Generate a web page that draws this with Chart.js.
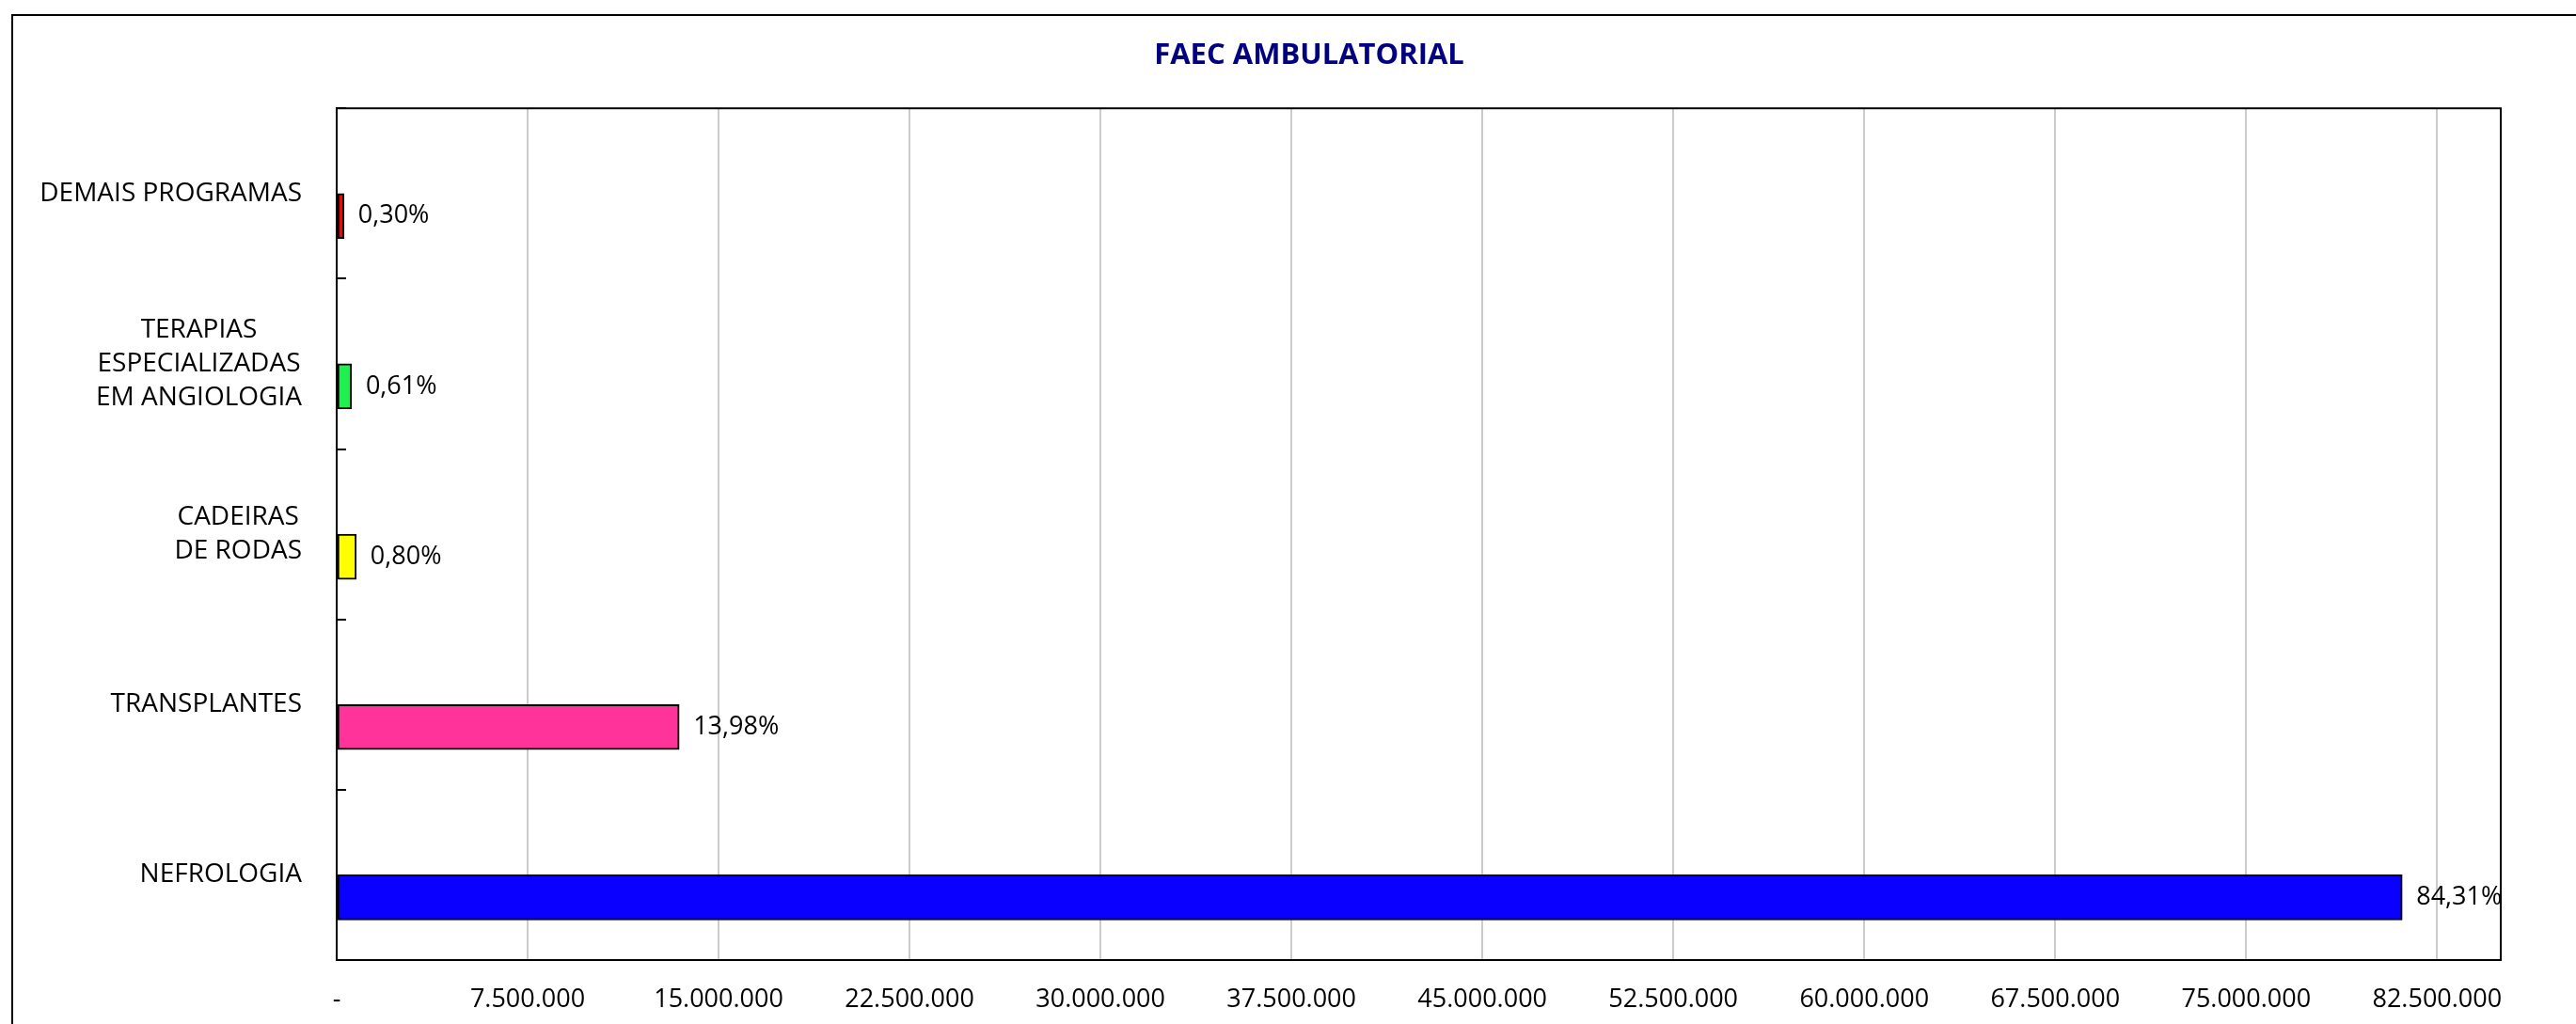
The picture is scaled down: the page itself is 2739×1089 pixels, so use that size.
<!DOCTYPE html>
<html>
<head>
<meta charset="utf-8">
<title>FAEC AMBULATORIAL</title>
<script src="https://cdn.jsdelivr.net/npm/chart.js@4/dist/chart.umd.min.js"></script>
<style>
  html, body { margin: 0; padding: 0; background: #fff; overflow: hidden; }
  #moldura {
    position: absolute; left: 12px; top: 15px; width: 3000px; height: 2000px;
    border-left: 2px solid #000; border-top: 2px solid #000;
  }
  #grafico { position: absolute; left: 0; top: 0; }
</style>
</head>
<body>
<div id="moldura"></div>
<canvas id="grafico" width="2739" height="1089"></canvas>
<script>

// dados (de cima para baixo)
const categorias = [
    ["DEMAIS PROGRAMAS"],
    ["TERAPIAS", "ESPECIALIZADAS", "EM ANGIOLOGIA"],
    ["CADEIRAS", "DE RODAS"],
    ["TRANSPLANTES"],
    ["NEFROLOGIA"]
];
const valores = [289000, 587000, 770000, 13453000, 81130000];
const coresBarras = ["#ff0000", "#1ef050", "#ffff00", "#ff3399", "#0a00ff"];

// eixo x: vai ate 85 milhoes, marcas de 7,5 em 7,5 milhoes
const eixoMax = 85000000;
const marcasX = [0, 7500000, 15000000, 22500000, 30000000, 37500000,
                 45000000, 52500000, 60000000, 67500000, 75000000, 82500000];

const fonte = '"Open Sans", sans-serif';
const total = valores.reduce((a, b) => a + b, 0);
const rotulos = valores.map(v => (v / total * 100).toFixed(2).replace(".", ",") + "%");

function formatarNumero(v) {
    if (v === 0) return "-";
    return String(Math.round(v)).replace(/\B(?=(\d{3})+(?!\d))/g, ".");
}

// rotulos das categorias: bloco alinhado a direita, linhas centralizadas
const rotulosCategoria = {
    id: "rotulosCategoria",
    afterDraw(chart) {
        const ctx = chart.ctx;
        const escala = chart.scales.y;
        const direita = chart.chartArea.left - 37;
        ctx.save();
        ctx.font = "28px " + fonte;
        ctx.fillStyle = "#000";
        ctx.textAlign = "center";
        ctx.textBaseline = "middle";
        categorias.forEach((linhas, i) => {
            const largura = Math.max(...linhas.map(l => ctx.measureText(l).width));
            const cx = direita - largura / 2;
            const cy = escala.getPixelForTick(i);
            linhas.forEach((l, j) => {
                ctx.fillText(l, cx, cy + (j - (linhas.length - 1) / 2) * 36);
            });
        });
        ctx.restore();
    }
};

// percentuais ao lado das barras + borda da area do grafico
const rotulosBarras = {
    id: "rotulosBarras",
    afterDatasetsDraw(chart) {
        const ctx = chart.ctx;
        const area = chart.chartArea;
        ctx.save();
        ctx.strokeStyle = "#000";
        ctx.lineWidth = 2;
        ctx.strokeRect(area.left, area.top, area.right - area.left, area.bottom - area.top);

        ctx.font = "27px " + fonte;
        ctx.fillStyle = "#000";
        ctx.textAlign = "left";
        ctx.textBaseline = "middle";
        chart.getDatasetMeta(1).data.forEach((barra, i) => {
            ctx.fillText(rotulos[i], barra.x + 15, barra.y);
        });
        ctx.restore();
    }
};

new Chart(document.getElementById("grafico"), {
    type: "bar",
    data: {
        labels: categorias,
        datasets: [
            {
                // serie vazia, ocupa a metade de cima de cada grupo
                data: categorias.map(() => null),
                backgroundColor: "transparent"
            },
            {
                data: valores,
                backgroundColor: coresBarras,
                borderColor: "#000",
                borderWidth: 2,
                borderSkipped: false
            }
        ]
    },
    options: {
        indexAxis: "y",
        responsive: false,
        animation: false,
        devicePixelRatio: 1,
        barThickness: 48,
        layout: {
            padding: { left: 125, right: 80, top: 0, bottom: 0 }
        },
        plugins: {
            legend: { display: false },
            tooltip: { enabled: false },
            title: {
                display: true,
                text: "FAEC AMBULATORIAL",
                color: "#000080",
                font: { family: fonte, size: 31, weight: "bold" },
                padding: { top: 41, bottom: 37 }
            }
        },
        scales: {
            x: {
                min: 0,
                max: eixoMax,
                afterBuildTicks(escala) {
                    escala.ticks = marcasX.map(v => ({ value: v }));
                },
                afterFit(escala) {
                    escala.height = 68;
                    escala.paddingLeft = 0;
                    escala.paddingRight = 0;
                },
                grid: {
                    color: "#cccccc",
                    lineWidth: 2,
                    drawTicks: false
                },
                border: { display: true, color: "#000", width: 2 },
                ticks: {
                    padding: 26,
                    color: "#000",
                    font: { family: fonte, size: 27 },
                    maxRotation: 0,
                    autoSkip: false,
                    callback: v => formatarNumero(v)
                }
            },
            y: {
                afterFit(escala) { escala.width = 233; },
                grid: {
                    drawOnChartArea: false,
                    color: "#000",
                    lineWidth: 2,
                    tickLength: -10
                },
                border: { display: true, color: "#000", width: 2 },
                ticks: { display: false }
            }
        }
    },
    plugins: [rotulosCategoria, rotulosBarras]
});

</script>
</body>
</html>
